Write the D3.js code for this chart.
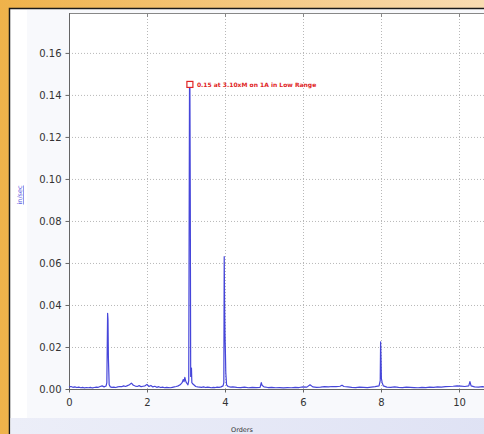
<!DOCTYPE html>
<html>
<head>
<meta charset="utf-8">
<script src="https://cdn.jsdelivr.net/npm/d3@7"></script>
<style>
  body { margin: 0; overflow: hidden; }
  svg { display: block; }
</style>
</head>
<body>
<svg id="chart"></svg>
<script>
// spectrum (order, in/sec)
var orders = [
  0.00, 0.05, 0.10, 0.15, 0.20, 0.25, 0.30, 0.35, 0.40, 0.45, 0.50, 0.55, 0.60, 0.65, 0.70, 0.75, 0.80, 0.85, 0.90, 0.95,
  0.97, 0.99, 1.00, 1.01, 1.03, 1.06, 1.10, 1.15, 1.20, 1.25, 1.30, 1.35, 1.40, 1.45, 1.50, 1.55, 1.60, 1.65, 1.70, 1.75,
  1.80, 1.85, 1.90, 1.95, 2.00, 2.05, 2.10, 2.15, 2.20, 2.25, 2.30, 2.35, 2.40, 2.45, 2.50, 2.55, 2.60, 2.65, 2.70, 2.75,
  2.80, 2.85, 2.90, 2.93, 2.95, 2.97, 2.99, 3.01, 3.03, 3.05, 3.07, 3.09, 3.10, 3.11, 3.12, 3.14, 3.15, 3.17, 3.20, 3.25,
  3.30, 3.35, 3.40, 3.45, 3.50, 3.55, 3.60, 3.65, 3.70, 3.75, 3.80, 3.85, 3.90, 3.95, 3.97, 3.98, 3.99, 4.00, 4.01, 4.02,
  4.04, 4.08, 4.15, 4.20, 4.30, 4.40, 4.50, 4.60, 4.70, 4.80, 4.90, 4.93, 4.95, 5.00, 5.10, 5.20, 5.30, 5.40, 5.50, 5.60,
  5.70, 5.80, 5.90, 6.00, 6.10, 6.18, 6.25, 6.35, 6.45, 6.55, 6.65, 6.75, 6.85, 6.95, 7.00, 7.05, 7.15, 7.25, 7.35, 7.45,
  7.55, 7.65, 7.75, 7.85, 7.95, 7.98, 7.99, 8.00, 8.01, 8.03, 8.06, 8.15, 8.25, 8.35, 8.45, 8.55, 8.65, 8.75, 8.85, 8.95,
  9.05, 9.15, 9.25, 9.35, 9.45, 9.55, 9.65, 9.75, 9.85, 9.95, 10.05, 10.15, 10.25, 10.28, 10.31, 10.40, 10.50, 10.60, 10.70, 10.80
];
var velocity = [
  0.0010, 0.0012, 0.0008, 0.0010, 0.0007, 0.0009, 0.0006, 0.0008, 0.0005, 0.0007, 0.0006, 0.0008, 0.0005, 0.0007, 0.0009, 0.0008, 0.0012, 0.0015, 0.0010, 0.0014,
  0.0030, 0.0360, 0.0330, 0.0150, 0.0020, 0.0010, 0.0008, 0.0009, 0.0007, 0.0010, 0.0012, 0.0011, 0.0015, 0.0012, 0.0016, 0.0020, 0.0028, 0.0018, 0.0014, 0.0012,
  0.0016, 0.0011, 0.0013, 0.0015, 0.0022, 0.0012, 0.0017, 0.0010, 0.0013, 0.0008, 0.0011, 0.0007, 0.0009, 0.0006, 0.0008, 0.0007, 0.0006, 0.0008, 0.0010, 0.0012,
  0.0015, 0.0020, 0.0030, 0.0045, 0.0035, 0.0055, 0.0040, 0.0030, 0.0025, 0.0020, 0.0040, 0.1430, 0.1450, 0.0900, 0.0060, 0.0100, 0.0030, 0.0025, 0.0020, 0.0012,
  0.0010, 0.0009, 0.0008, 0.0010, 0.0007, 0.0009, 0.0008, 0.0006, 0.0008, 0.0007, 0.0009, 0.0008, 0.0010, 0.0015, 0.0030, 0.0630, 0.0400, 0.0260, 0.0180, 0.0080,
  0.0020, 0.0012, 0.0009, 0.0010, 0.0008, 0.0007, 0.0009, 0.0006, 0.0008, 0.0007, 0.0008, 0.0030, 0.0018, 0.0010, 0.0007, 0.0008, 0.0006, 0.0007, 0.0005, 0.0007,
  0.0006, 0.0008, 0.0007, 0.0010, 0.0009, 0.0020, 0.0010, 0.0008, 0.0009, 0.0011, 0.0010, 0.0012, 0.0011, 0.0013, 0.0018, 0.0012, 0.0010, 0.0008, 0.0007, 0.0009,
  0.0008, 0.0007, 0.0009, 0.0011, 0.0015, 0.0040, 0.0225, 0.0150, 0.0050, 0.0030, 0.0015, 0.0009, 0.0008, 0.0010, 0.0008, 0.0007, 0.0009, 0.0008, 0.0007, 0.0006,
  0.0008, 0.0007, 0.0009, 0.0008, 0.0010, 0.0009, 0.0011, 0.0012, 0.0013, 0.0015, 0.0014, 0.0012, 0.0015, 0.0035, 0.0015, 0.0010, 0.0009, 0.0011, 0.0008, 0.0009
];
var yTicks = [0, 0.02, 0.04, 0.06, 0.08, 0.10, 0.12, 0.14, 0.16];
var xTicks = [0, 2, 4, 6, 8, 10];
var marker = { order: 3.10, value: 0.145, label: "0.15 at 3.10xM on 1A in Low Range" };

var W = 484, H = 434;
var svg = d3.select("#chart").attr("width", W).attr("height", H);

var defs = svg.append("defs");
var bg = defs.append("linearGradient").attr("id", "bg");
bg.append("stop").attr("offset", "0%").attr("stop-color", "#efb24a");
bg.append("stop").attr("offset", "100%").attr("stop-color", "#f9dcb2");
var foot = defs.append("linearGradient").attr("id", "foot");
foot.append("stop").attr("offset", "0%").attr("stop-color", "#eceef8");
foot.append("stop").attr("offset", "100%").attr("stop-color", "#dfe2f4");

svg.append("rect").attr("width", W).attr("height", H).attr("fill", "url(#bg)");
svg.append("rect")
  .attr("x", 9.5).attr("y", 8.5).attr("width", W).attr("height", H)
  .attr("fill", "#ffffff").attr("stroke", "#1a1a1a").attr("stroke-width", 1.5);
// faint inner panel
svg.append("rect")
  .attr("x", 27).attr("y", 10).attr("width", W).attr("height", 408)
  .attr("fill", "#f8f9fc");
svg.append("rect")
  .attr("x", 10.5).attr("y", 418).attr("width", W).attr("height", 20)
  .attr("fill", "url(#foot)");

var x = d3.scaleLinear().domain([0, 12]).range([69, 69 + 12 * 39]);
var y = d3.scaleLinear().domain([0, 0.179]).range([389, 13]);

svg.append("rect")
  .attr("x", 69).attr("y", 13).attr("width", W).attr("height", 376)
  .attr("fill", "#ffffff");

var g = svg.append("g");

// grid
g.append("g").selectAll("line").data(yTicks.slice(1)).join("line")
  .attr("x1", 69).attr("x2", W).attr("y1", function(d) { return y(d) + 0.5; }).attr("y2", function(d) { return y(d) + 0.5; })
  .attr("stroke", "#b8b8b8").attr("stroke-dasharray", "1,2");
g.append("g").selectAll("line").data(xTicks.slice(1)).join("line")
  .attr("y1", 13).attr("y2", 389).attr("x1", function(d) { return x(d) + 0.5; }).attr("x2", function(d) { return x(d) + 0.5; })
  .attr("stroke", "#b8b8b8").attr("stroke-dasharray", "1,2");

// top border with small ticks
g.append("line").attr("x1", 69).attr("x2", W).attr("y1", 13.5).attr("y2", 13.5).attr("stroke", "#888");
g.append("g").selectAll("line").data(xTicks.slice(1)).join("line")
  .attr("x1", function(d) { return x(d) + 0.5; }).attr("x2", function(d) { return x(d) + 0.5; })
  .attr("y1", 13).attr("y2", 17).attr("stroke", "#888");

// axes
var yAxis = g.append("g").attr("transform", "translate(69.5,0)")
  .call(d3.axisLeft(y).tickValues(yTicks).tickFormat(d3.format(".2f")).tickSize(4).tickPadding(4));
var xAxis = g.append("g").attr("transform", "translate(0,389.5)")
  .call(d3.axisBottom(x).tickValues(xTicks).tickFormat(d3.format("d")).tickSize(3).tickPadding(6));
[yAxis, xAxis].forEach(function(a) {
  a.select(".domain").attr("stroke", "#666");
  a.selectAll(".tick line").attr("stroke", "#666");
  a.selectAll("text").attr("fill", "#333").style("font-family", "DejaVu Sans").style("font-size", "10px");
});
yAxis.select(".domain").attr("d", "M0,13V389");
xAxis.select(".domain").attr("d", "M69,0H" + W);

// spectrum
var pts = orders.map(function(o, i) { return [o, velocity[i]]; });
var line = d3.line().x(function(d) { return x(d[0]); }).y(function(d) { return y(d[1]); });
g.append("path").datum(pts)
  .attr("d", line)
  .attr("fill", "none").attr("stroke", "#4646da").attr("stroke-width", 1.2)
  .attr("stroke-linejoin", "round");

// peak marker
var mx = x(marker.order), my = y(marker.value);
g.append("rect").attr("x", mx - 3).attr("y", my - 3).attr("width", 6).attr("height", 6)
  .attr("fill", "#fff").attr("stroke", "#e02424").attr("stroke-width", 1.2);
g.append("text").attr("x", mx + 7).attr("y", my + 2.2)
  .attr("fill", "#e02424").style("font-family", "DejaVu Sans").style("font-weight", "bold").style("font-size", "6px")
  .text(marker.label);

// axis titles
svg.append("text").attr("transform", "translate(22,195) rotate(-90)")
  .attr("text-anchor", "middle").attr("fill", "#5a5ae0")
  .style("font-family", "DejaVu Sans").style("font-size", "6.5px").style("text-decoration", "underline")
  .text("in/sec");
svg.append("text").attr("x", 242).attr("y", 432)
  .attr("text-anchor", "middle").attr("fill", "#333")
  .style("font-family", "DejaVu Sans").style("font-size", "6.5px")
  .text("Orders");
</script>
</body>
</html>
